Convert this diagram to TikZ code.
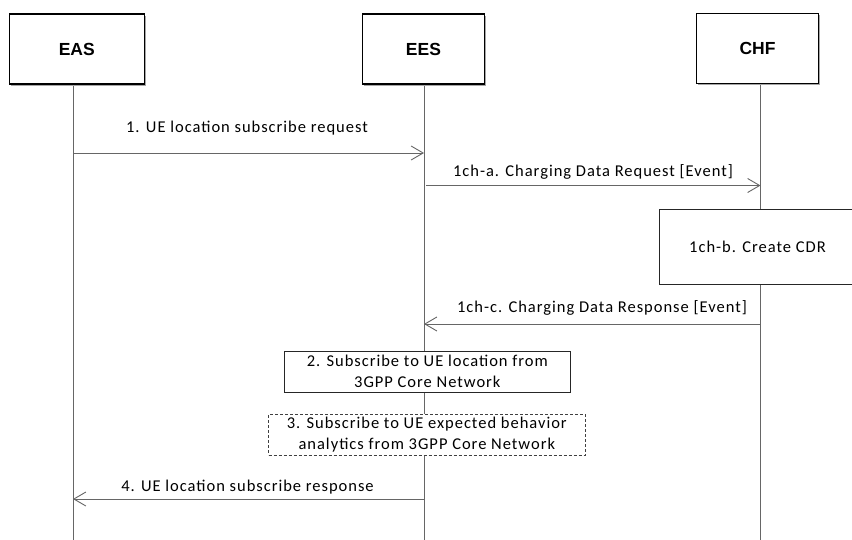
\documentclass[tikz,border=0pt]{standalone}
\usepackage{fontspec}
\setmainfont{Carlito}
\newfontfamily\hdfont{Liberation Sans}
\newfontfamily\lblfont{Carlito}[LetterSpace=6]
\usetikzlibrary{arrows.meta,shadows}
\begin{document}
\begin{tikzpicture}[x=1pt,y=-1pt,
  actor/.style={draw=black,line width=1.2pt,fill=white,minimum height=70pt,inner sep=0pt,
    font=\hdfont\bfseries\fontsize{17.5}{20}\selectfont,
    drop shadow={shadow xshift=1.6pt,shadow yshift=-1.6pt,fill=black!35,opacity=1}},
  life/.style={draw=black!60,line width=0.9pt},
  msg/.style={draw=black!60,line width=0.9pt,-{Straight Barb[length=12pt,width=14pt,line width=0.9pt]}},
  lbl/.style={inner sep=0pt,font=\lblfont\fontsize{16.5}{21.5}\selectfont},
  actbox/.style={draw=black!85,line width=1pt,fill=white,inner sep=0pt,align=center,
    font=\lblfont\fontsize{16.5}{21.5}\selectfont},
  dashbox/.style={actbox,dash pattern=on 3pt off 2pt,draw=black!75}]
\useasboundingbox (0,0) rectangle (852,540);
\fill[white] (0,0) rectangle (852,540);

% lifeline ends
\coordinate (easTop) at (73,84);
\coordinate (easBot) at (73,540);
\coordinate (eesTop) at (424,84);
\coordinate (eesBot) at (424,540);
\coordinate (chfTop) at (760.5,84);
\coordinate (chfBot) at (760.5,540);

\draw[life] (easTop) -- (easBot);
\draw[life] (eesTop) -- (eesBot);
\draw[life] (chfTop) -- (chfBot);

% actors
\node[actor,minimum width=135pt] (eas) at (76.8,49) {EAS};
\node[actor,minimum width=121.6pt] (ees) at (423.5,49) {EES};
\node[actor,minimum width=121.6pt] (chf) at (757.5,48.5) {CHF};

% message end points
\coordinate (m1s) at (73,153);
\coordinate (m1e) at (424,153);
\coordinate (mas) at (426,185.5);
\coordinate (mae) at (760.5,185.5);
\coordinate (mcs) at (760.5,324);
\coordinate (mce) at (424,324);
\coordinate (m4s) at (424,499);
\coordinate (m4e) at (73,499);

\draw[msg] (m1s) -- (m1e);
\node[lbl] (t1) at (247,128) {1. UE location subscribe request};

\draw[msg] (mas) -- (mae);
\node[lbl] (ta) at (593,172) {1ch-a. Charging Data Request [Event]};

\node[actbox,minimum width=196pt,minimum height=75pt,anchor=north west] (cdr) at (659,209) {1ch-b. Create CDR};

\draw[msg] (mcs) -- (mce);
\node[lbl] (tc) at (602,308) {1ch-c. Charging Data Response [Event]};

\node[actbox,minimum width=285.5pt,minimum height=41pt] (s2) at (427.3,371.5) {2. Subscribe to UE location from\\3GPP Core Network};

\node[dashbox,minimum width=316.5pt,minimum height=41pt] (s3) at (426.8,434.5) {3. Subscribe to UE expected behavior\\analytics from 3GPP Core Network};

\draw[msg] (m4s) -- (m4e);
\node[lbl] (t4) at (247.5,487) {4. UE location subscribe response};
\end{tikzpicture}
\end{document}
